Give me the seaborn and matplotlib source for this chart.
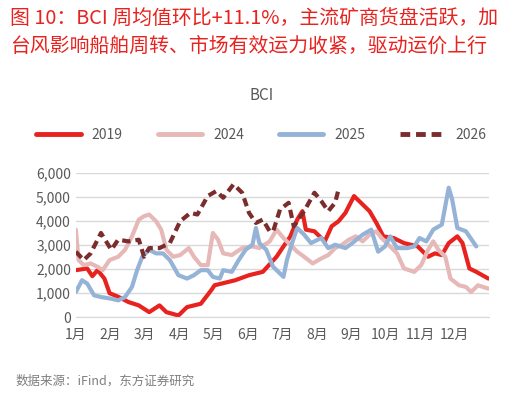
import matplotlib
matplotlib.use('Agg')
import matplotlib.pyplot as plt
import seaborn as sns
import numpy as np
import pandas as pd
from matplotlib.ticker import FuncFormatter

# x is in months since 1 Jan (0..12)
x2019 = [0.0, 0.33, 0.48, 0.63, 0.83, 0.98, 1.23, 1.53, 1.83, 2.13, 2.43, 2.63, 2.98, 3.23, 3.63, 3.93, 4.03, 4.23, 4.63, 5.03, 5.23, 5.43, 5.83, 6.03, 6.23, 6.43, 6.58, 6.68, 6.93, 7.23, 7.43, 7.63, 7.83, 8.08, 8.33, 8.53, 8.73, 8.93, 9.23, 9.53, 9.93, 10.23, 10.43, 10.63, 10.83, 11.08, 11.23, 11.43, 11.63, 11.98]
v2019 = [1960, 2030, 1710, 1960, 1610, 1000, 850, 630, 490, 210, 490, 210, 70, 420, 560, 1120, 1330, 1400, 1540, 1750, 1820, 1890, 2520, 2950, 3370, 4070, 4420, 3650, 3580, 3160, 3790, 4000, 4350, 5050, 4700, 4420, 3930, 3370, 3300, 3090, 2950, 2520, 2660, 2590, 3090, 3370, 3090, 2030, 1890, 1610]

x2024 = [0.0, 0.08, 0.23, 0.43, 0.63, 0.78, 0.98, 1.23, 1.43, 1.63, 1.83, 1.98, 2.13, 2.33, 2.48, 2.63, 2.83, 3.03, 3.28, 3.43, 3.63, 3.83, 3.98, 4.13, 4.28, 4.53, 4.83, 5.13, 5.33, 5.63, 5.83, 6.03, 6.23, 6.43, 6.63, 6.88, 7.13, 7.33, 7.53, 7.73, 7.93, 8.13, 8.33, 8.53, 8.73, 8.88, 9.13, 9.33, 9.53, 9.83, 10.03, 10.23, 10.38, 10.53, 10.73, 10.88, 11.13, 11.33, 11.48, 11.68, 11.98]
v2024 = [3650, 2380, 2170, 2240, 2100, 1960, 2380, 2520, 2810, 3370, 4070, 4210, 4280, 4000, 3650, 2810, 2520, 2590, 2880, 2520, 2170, 2170, 3510, 3230, 2660, 2590, 2880, 2950, 2880, 3160, 3650, 3300, 3020, 2730, 2520, 2240, 2450, 2590, 2880, 3020, 3230, 3370, 3160, 3440, 3580, 3300, 2950, 2660, 2030, 1890, 2170, 2810, 3160, 2810, 2520, 1610, 1330, 1260, 1050, 1330, 1190]

x2025 = [0.0, 0.18, 0.33, 0.53, 0.73, 1.03, 1.23, 1.43, 1.63, 1.78, 1.93, 2.13, 2.33, 2.53, 2.73, 2.98, 3.23, 3.43, 3.63, 3.83, 3.98, 4.18, 4.28, 4.53, 4.73, 4.93, 5.13, 5.23, 5.33, 5.53, 5.73, 6.03, 6.13, 6.28, 6.43, 6.63, 6.83, 7.13, 7.33, 7.53, 7.83, 8.03, 8.33, 8.58, 8.78, 8.98, 9.13, 9.33, 9.63, 9.83, 9.98, 10.18, 10.38, 10.63, 10.83, 10.93, 11.08, 11.33, 11.63]
v2025 = [1050, 1540, 1400, 910, 840, 770, 700, 840, 1260, 1960, 2520, 2810, 2660, 2660, 2380, 1750, 1610, 1750, 1960, 1960, 1680, 1610, 1960, 1890, 2380, 2810, 3020, 3720, 3090, 2810, 2100, 1680, 2380, 3090, 3720, 3440, 3090, 3300, 2880, 3020, 2880, 3090, 3440, 3650, 2730, 2950, 3370, 2880, 2880, 2950, 3300, 3160, 3650, 3860, 5400, 4910, 3720, 3580, 2950]

x2026 = [0.0, 0.23, 0.43, 0.73, 1.03, 1.23, 1.53, 1.83, 1.98, 2.13, 2.43, 2.73, 3.03, 3.33, 3.53, 3.83, 4.08, 4.28, 4.58, 4.83, 5.03, 5.23, 5.43, 5.63, 5.73, 5.93, 6.18, 6.33, 6.63, 6.93, 7.13, 7.33, 7.53, 7.63]
v2026 = [2730, 2380, 2660, 3510, 2810, 3230, 3160, 3230, 2520, 2880, 2880, 3090, 4000, 4350, 4280, 5050, 5260, 4980, 5540, 5190, 4350, 3930, 4070, 3580, 3580, 4490, 4770, 3790, 4420, 5190, 4840, 4420, 4770, 5330]

series = ['2019', '2024', '2025', '2026']
colors = {'2019': '#E8231F', '2024': '#E6B9B8', '2025': '#95B3D7', '2026': '#7B2C2C'}
month_labels = [f'{i}月' for i in range(1, 13)]

frames = []
for name, xs, vs in [('2019', x2019, v2019), ('2024', x2024, v2024),
                     ('2025', x2025, v2025), ('2026', x2026, v2026)]:
    frames.append(pd.DataFrame({'month': xs, 'value': vs, 'year': name}))
df = pd.concat(frames, ignore_index=True)

sns.set_style('white')
plt.rcParams['font.family'] = ['Noto Sans CJK SC', 'DejaVu Sans']

fig = plt.figure(figsize=(5.23, 4.03), dpi=100)
ax = fig.add_axes([0.145, 0.213, 0.79, 0.357])

sns.lineplot(data=df, x='month', y='value', hue='year', hue_order=series,
             palette=colors, style='year', style_order=series,
             dashes={'2019': '', '2024': '', '2025': '', '2026': (2, 1.2)},
             linewidth=3, sort=False, ax=ax, legend=False)

ax.set_xlim(0, 12)
ax.set_ylim(0, 6000)
ax.set_yticks(range(0, 6001, 1000))
ax.yaxis.set_major_formatter(FuncFormatter(lambda v, p: f'{int(v):,}'))
ax.set_xticks(range(12))
ax.set_xticklabels(month_labels)
ax.tick_params(axis='both', labelsize=10, colors='#595959', length=0)
ax.tick_params(axis='x', length=4, color='#D9D9D9')
ax.grid(axis='y', color='#D9D9D9', linewidth=1)
ax.set_xlabel('')
ax.set_ylabel('')
for s in ['top', 'right', 'left']:
    ax.spines[s].set_visible(False)
ax.spines['bottom'].set_color('#D9D9D9')

# legend
handles = [plt.Line2D([], [], color=colors[s], lw=3.5,
                      linestyle=(0, (2, 1.2)) if s == '2026' else '-') for s in series]
fig.legend(handles, series, loc='center', bbox_to_anchor=(0.5, 0.665), ncol=4,
           frameon=False, fontsize=10, handlelength=3.2, columnspacing=2.5,
           labelcolor='#595959')

fig.text(0.5, 0.762, 'BCI', ha='center', va='center', fontsize=11, color='#595959')
fig.text(0.02, 0.955, '图 10：BCI 周均值环比+11.1%，主流矿商货盘活跃，加', fontsize=14.3,
         color='#E8231F', va='center', ha='left')
fig.text(0.02, 0.885, '台风影响船舶周转、市场有效运力收紧，驱动运价上行', fontsize=14.3,
         color='#E8231F', va='center', ha='left')
fig.text(0.03, 0.055, '数据来源：iFind，东方证券研究', fontsize=9, color='#7F7F7F', va='center')

fig.savefig('out.png', dpi=100)
